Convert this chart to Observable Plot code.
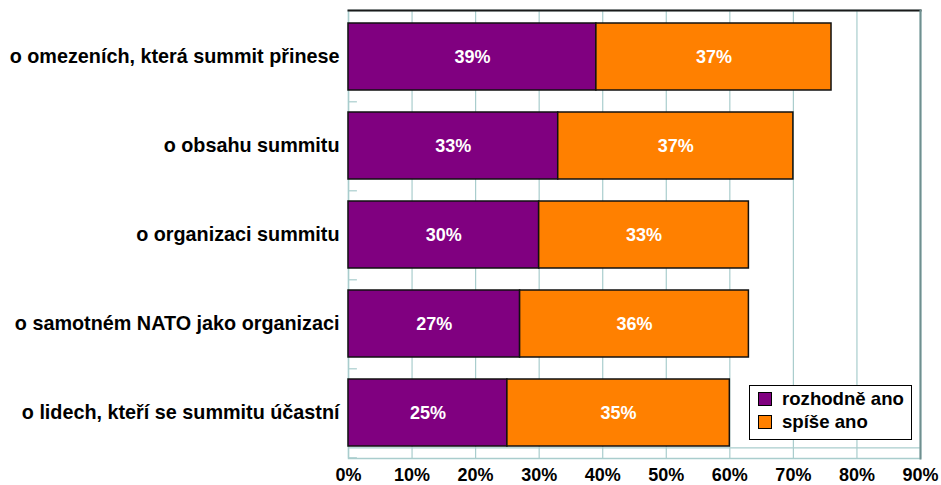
<!DOCTYPE html>
<html><head><meta charset="utf-8">
<script src="https://cdn.jsdelivr.net/npm/d3@7"></script>
<script src="https://cdn.jsdelivr.net/npm/@observablehq/plot@0.6"></script>
<style>
body{margin:0;background:#fff;font-family:"Liberation Sans",Arial,sans-serif;}
#wrap{position:relative;width:941px;height:485px;}
.legend{position:absolute;left:749px;top:385px;width:163px;height:55px;border:1.5px solid #000;background:#fff;box-sizing:border-box;}
.row{position:absolute;left:8px;height:22px;display:flex;align-items:center;font-weight:bold;font-size:18.6px;color:#000;white-space:nowrap;}
.sw{display:inline-block;width:14px;height:14px;border:1.5px solid #000;box-sizing:border-box;margin-right:10px;}
</style></head><body><div id="wrap"></div>
<script>
const categories = [
  "o omezeních, která summit přinese",
  "o obsahu summitu",
  "o organizaci summitu",
  "o samotném NATO jako organizaci",
  "o lidech, kteří se summitu účastní"
];
const seriesNames = ["rozhodně ano", "spíše ano"];
const definitely = [39, 33, 30, 27, 25];
const rather = [37, 37, 33, 36, 35];
const xTicks = [0, 10, 20, 30, 40, 50, 60, 70, 80, 90];
const colors = ["#800080", "#ff8000"];

const data = categories.flatMap((c, i) => [
  {cat: c, series: seriesNames[0], value: definitely[i]},
  {cat: c, series: seriesNames[1], value: rather[i]}
]);

const H = 485, mt = 10, mb = 27;
const step = (H - mt - mb) / categories.length;
const grid = "#a9cdcd";

const chart = Plot.plot({
  width: 941, height: H,
  marginLeft: 348, marginRight: 21, marginTop: mt, marginBottom: mb,
  style: {fontFamily: "'Liberation Sans', Arial, sans-serif", background: "#fff", color: "#000"},
  x: {domain: [0, 90]},
  y: {domain: categories, paddingInner: 0.25, paddingOuter: 0.125},
  color: {domain: seriesNames, range: colors},
  marks: [
    Plot.gridX(xTicks, {stroke: grid, strokeOpacity: 1, strokeWidth: 1.2}),
    Plot.ruleY([categories[categories.length - 1]], {x1: 0, x2: 90, dy: step / 2 - 10, stroke: grid, strokeWidth: 1.2}),
    Plot.ruleY(categories, {x1: 0, x2: 1.4, dy: step / 2, stroke: grid, strokeWidth: 1.2}),
    Plot.frame({stroke: grid, strokeWidth: 1.5}),
    Plot.frame({anchor: "top", stroke: "#1a1a1a", strokeWidth: 2}),
    Plot.frame({anchor: "right", stroke: "#6f8f8f", strokeWidth: 2}),
    Plot.axisX(xTicks, {tickFormat: d => d + "%", tickSize: 0, tickPadding: 10, fontSize: 18, fontWeight: "bold", fill: "#000", label: null}),
    Plot.axisY({tickSize: 0, tickPadding: 9, fontSize: 19.8, fontWeight: "bold", fill: "#000", label: null}),
    Plot.barX(data, Plot.stackX({x: "value", y: "cat", fill: "series", stroke: "#111", strokeWidth: 1.5})),
    Plot.text(data, Plot.stackX({x: "value", y: "cat", z: "series", text: d => d.value + "%", fill: "white", fontSize: 18, fontWeight: "bold"}))
  ]
});

const wrap = document.getElementById("wrap");
wrap.appendChild(chart);

const legend = document.createElement("div");
legend.className = "legend";
seriesNames.forEach((name, i) => {
  const row = document.createElement("div");
  row.className = "row";
  row.style.top = (2 + i * 23) + "px";
  const sw = document.createElement("span");
  sw.className = "sw";
  sw.style.background = colors[i];
  row.appendChild(sw);
  row.appendChild(document.createTextNode(name));
  legend.appendChild(row);
});
wrap.appendChild(legend);
</script>
</body></html>
